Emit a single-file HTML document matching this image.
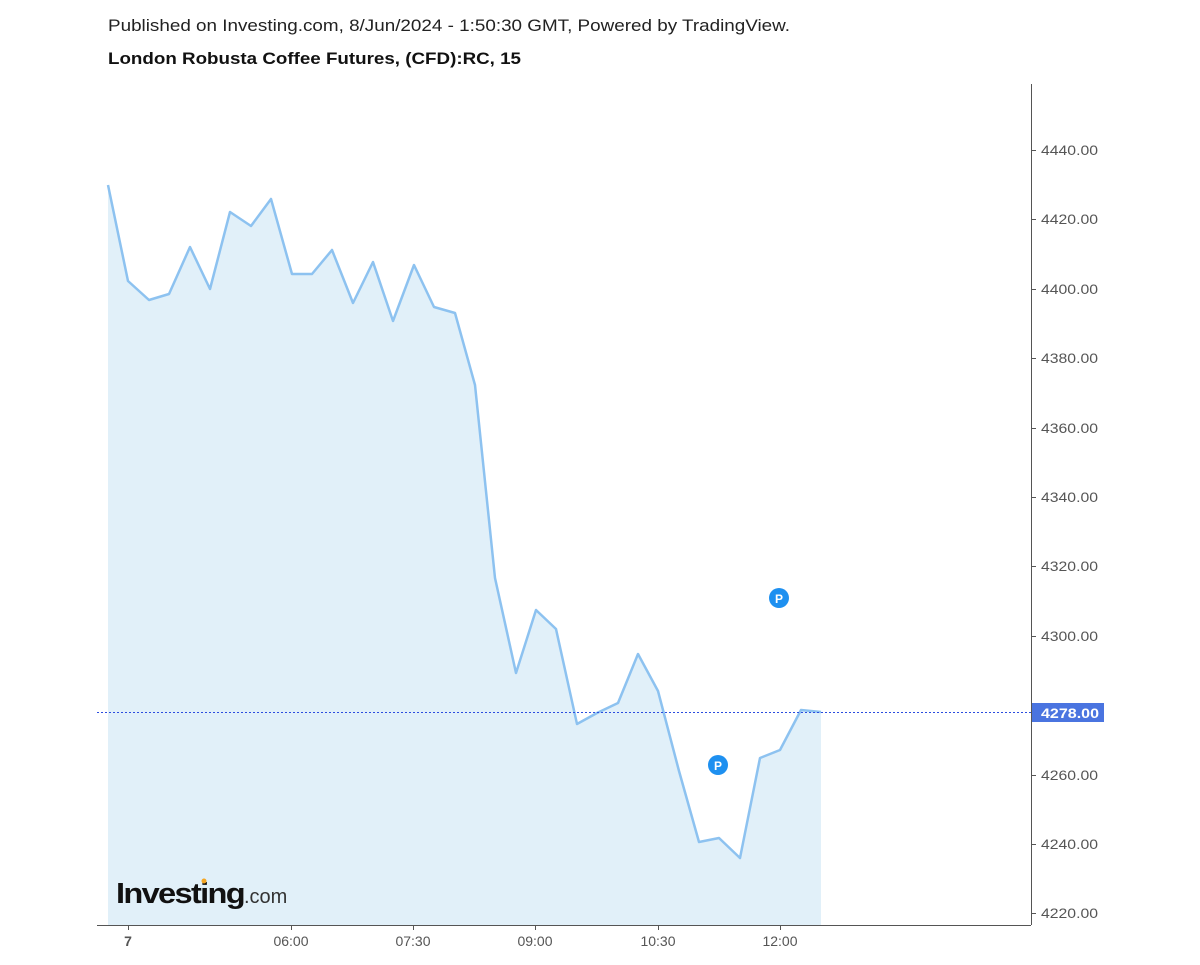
<!DOCTYPE html>
<html><head><style>
body{margin:0;background:#fff;}
svg text{font-family:"Liberation Sans",Arial,sans-serif;}
</style></head><body>
<svg width="1200" height="960" xmlns="http://www.w3.org/2000/svg">
<text x="108" y="31" font-size="17" fill="#222" textLength="682" lengthAdjust="spacingAndGlyphs">Published on Investing.com, 8/Jun/2024 - 1:50:30 GMT, Powered by TradingView.</text>
<text x="108" y="64" font-size="16.5" font-weight="bold" fill="#111" textLength="413" lengthAdjust="spacingAndGlyphs">London Robusta Coffee Futures, (CFD):RC, 15</text>
<polygon fill="#e1f0f9" points="108,925 108,185 128,281 149,300 169,294 190,247 210,289 230,212 251,226 271,199 292,274 312,274 332,250 353,303 373,262 393,321 414,265 434,307 455,313 475,385 495,578 516,673 536,610 556,629 577,724 597,713 618,703 638,654 658,691 679,771 699,842 719,838 740,858 760,758 780,750 801,710 821,712 821,925"/>
<polyline fill="none" stroke="#8dc2f0" stroke-width="2.5" stroke-linejoin="round" points="108,185 128,281 149,300 169,294 190,247 210,289 230,212 251,226 271,199 292,274 312,274 332,250 353,303 373,262 393,321 414,265 434,307 455,313 475,385 495,578 516,673 536,610 556,629 577,724 597,713 618,703 638,654 658,691 679,771 699,842 719,838 740,858 760,758 780,750 801,710 821,712"/>
<line x1="97" y1="712.5" x2="1031" y2="712.5" stroke="#2b4de0" stroke-width="1" stroke-dasharray="2,2"/>
<line x1="1031.5" y1="84" x2="1031.5" y2="925" stroke="#555" stroke-width="1"/>
<line x1="97" y1="925.5" x2="1031" y2="925.5" stroke="#555" stroke-width="1"/>
<g stroke="#555">
<line x1="1031" y1="150.5" x2="1036" y2="150.5"/><line x1="1031" y1="219.5" x2="1036" y2="219.5"/><line x1="1031" y1="289.5" x2="1036" y2="289.5"/><line x1="1031" y1="358.5" x2="1036" y2="358.5"/><line x1="1031" y1="428.5" x2="1036" y2="428.5"/><line x1="1031" y1="497.5" x2="1036" y2="497.5"/><line x1="1031" y1="566.5" x2="1036" y2="566.5"/><line x1="1031" y1="636.5" x2="1036" y2="636.5"/><line x1="1031" y1="775.5" x2="1036" y2="775.5"/><line x1="1031" y1="844.5" x2="1036" y2="844.5"/><line x1="1031" y1="913.5" x2="1036" y2="913.5"/>
<line x1="128.5" y1="925" x2="128.5" y2="930"/><line x1="291.5" y1="925" x2="291.5" y2="930"/><line x1="413.5" y1="925" x2="413.5" y2="930"/><line x1="535.5" y1="925" x2="535.5" y2="930"/><line x1="658.5" y1="925" x2="658.5" y2="930"/><line x1="780.5" y1="925" x2="780.5" y2="930"/>
</g>
<g font-size="14" fill="#555">
<text x="1041" y="155" textLength="57" lengthAdjust="spacingAndGlyphs">4440.00</text><text x="1041" y="224" textLength="57" lengthAdjust="spacingAndGlyphs">4420.00</text><text x="1041" y="294" textLength="57" lengthAdjust="spacingAndGlyphs">4400.00</text><text x="1041" y="363" textLength="57" lengthAdjust="spacingAndGlyphs">4380.00</text><text x="1041" y="433" textLength="57" lengthAdjust="spacingAndGlyphs">4360.00</text><text x="1041" y="502" textLength="57" lengthAdjust="spacingAndGlyphs">4340.00</text><text x="1041" y="571" textLength="57" lengthAdjust="spacingAndGlyphs">4320.00</text><text x="1041" y="641" textLength="57" lengthAdjust="spacingAndGlyphs">4300.00</text><text x="1041" y="780" textLength="57" lengthAdjust="spacingAndGlyphs">4260.00</text><text x="1041" y="849" textLength="57" lengthAdjust="spacingAndGlyphs">4240.00</text><text x="1041" y="918" textLength="57" lengthAdjust="spacingAndGlyphs">4220.00</text>
</g>
<g font-size="14" fill="#555" text-anchor="middle">
<text x="128" y="946" font-weight="bold">7</text><text x="291" y="946">06:00</text><text x="413" y="946">07:30</text><text x="535" y="946">09:00</text><text x="658" y="946">10:30</text><text x="780" y="946">12:00</text>
</g>
<rect x="1032" y="703" width="72" height="19" fill="#4a74e0"/>
<text x="1041" y="718" font-size="14" font-weight="bold" fill="#fff" textLength="58" lengthAdjust="spacingAndGlyphs">4278.00</text>
<circle cx="779" cy="598" r="10" fill="#1e90f0"/><text x="779" y="603" font-size="12" font-weight="bold" fill="#fff" text-anchor="middle">P</text>
<circle cx="718" cy="765" r="10" fill="#1e90f0"/><text x="718" y="770" font-size="12" font-weight="bold" fill="#fff" text-anchor="middle">P</text>
<text x="116" y="903" font-size="29" font-weight="bold" fill="#111" letter-spacing="-1.5" textLength="128" lengthAdjust="spacingAndGlyphs">Investing</text>
<circle cx="204" cy="881" r="2.5" fill="#f5a623"/>
<text x="244" y="903" font-size="20" fill="#333">.com</text>
</svg>
</body></html>
